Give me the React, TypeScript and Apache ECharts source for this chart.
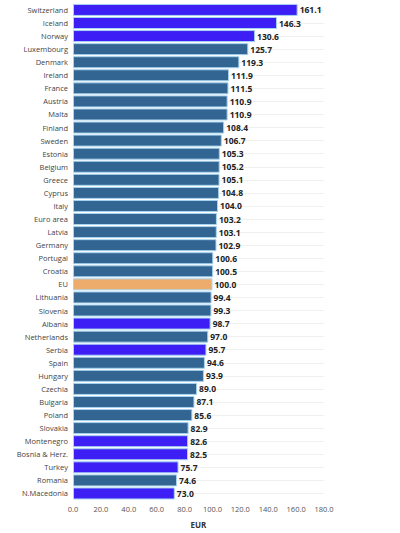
import React, { useEffect, useRef } from "react";
import * as echarts from "echarts";

const countries = [
  "Switzerland", "Iceland", "Norway", "Luxembourg", "Denmark", "Ireland", "France", "Austria", "Malta", "Finland",
  "Sweden", "Estonia", "Belgium", "Greece", "Cyprus", "Italy", "Euro area", "Latvia", "Germany", "Portugal",
  "Croatia", "EU", "Lithuania", "Slovenia", "Albania", "Netherlands", "Serbia", "Spain", "Hungary", "Czechia",
  "Bulgaria", "Poland", "Slovakia", "Montenegro", "Bosnia & Herz.", "Turkey", "Romania", "N.Macedonia",
];
const values = [
  161.1, 146.3, 130.6, 125.7, 119.3, 111.9, 111.5, 110.9, 110.9, 108.4,
  106.7, 105.3, 105.2, 105.1, 104.8, 104.0, 103.2, 103.1, 102.9, 100.6,
  100.5, 100.0, 99.4, 99.3, 98.7, 97.0, 95.7, 94.6, 93.9, 89.0,
  87.1, 85.6, 82.9, 82.6, 82.5, 75.7, 74.6, 73.0,
];
const nonEU = ["Switzerland", "Iceland", "Norway", "Albania", "Serbia", "Montenegro", "Bosnia & Herz.", "Turkey", "N.Macedonia"];
const euAggregate = ["EU"];
const xTicks = [0, 20, 40, 60, 80, 100, 120, 140, 160, 180];

const COLOR_MS = "#336592";
const COLOR_NONEU = "#3d1ef4";
const COLOR_EU = "#eeac6c";

export default function App() {
  const ref = useRef<HTMLDivElement>(null);
  useEffect(() => {
    document.body.style.margin = "0";
    const chart = echarts.init(ref.current!, null, { renderer: "svg" });
    const data = countries.map((c, i) => ({
      value: values[i],
      itemStyle: {
        color: euAggregate.includes(c) ? COLOR_EU : nonEU.includes(c) ? COLOR_NONEU : COLOR_MS,
      },
    }));
    chart.setOption({
      animation: false,
      textStyle: { fontFamily: "Open Sans" },
      grid: { left: 73, right: 76, top: 3.4, bottom: 26.4, containLabel: false },
      xAxis: {
        type: "value",
        min: 0,
        max: xTicks[xTicks.length - 1],
        interval: 20,
        name: "EUR",
        nameLocation: "middle",
        nameGap: 20,
        nameTextStyle: { fontSize: 8, fontWeight: "bold", color: "#333" },
        axisLine: { show: false },
        axisTick: { show: false },
        splitLine: { show: false },
        axisLabel: { fontSize: 7.5, color: "#555", margin: 5, formatter: (v: number) => v.toFixed(1) },
      },
      yAxis: {
        type: "category",
        inverse: true,
        data: countries,
        axisLine: { show: false },
        axisTick: { show: false, alignWithLabel: true },
        splitLine: { show: true, alignWithLabel: true, lineStyle: { color: "#f0f0f0", width: 1 } },
        axisLabel: { fontSize: 7.5, color: "#444", margin: 5 },
      },
      series: [
        {
          type: "bar",
          data,
          barWidth: 12,
          itemStyle: { borderColor: "#a6d3ef", borderWidth: 1 },
          label: {
            show: true,
            position: "right",
            distance: 2,
            fontSize: 8.5,
            fontWeight: "bold",
            color: "#222",
            formatter: (p: any) => p.value.toFixed(1),
          },
        },
      ],
    });
    return () => chart.dispose();
  }, []);
  return <div ref={ref} style={{ width: 400, height: 533 }} />;
}
